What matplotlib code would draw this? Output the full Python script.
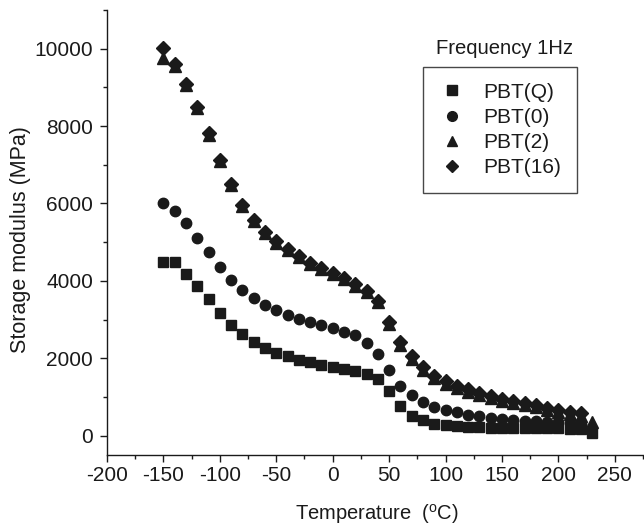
import matplotlib
matplotlib.use("Agg")
import matplotlib.pyplot as plt
from matplotlib.ticker import MultipleLocator
from matplotlib.lines import Line2D

plt.rcParams['font.family'] = ['Liberation Sans', 'DejaVu Sans']
plt.rcParams['mathtext.fontset'] = 'custom'
plt.rcParams['mathtext.rm'] = 'Liberation Sans'
plt.rcParams['mathtext.it'] = 'Liberation Sans:italic'
plt.rcParams['axes.unicode_minus'] = False

# Temperatures (°C)
temps_long = [-150, -140, -130, -120, -110, -100, -90, -80, -70, -60, -50, -40, -30,
              -20, -10, 0, 10, 20, 30, 40, 50, 60, 70, 80, 90, 100, 110, 120, 130,
              140, 150, 160, 170, 180, 190, 200, 210, 220, 230]
temps_short = temps_long[:-1]

# Storage modulus (MPa)
pbt_q = [4490, 4490, 4175, 3870, 3540, 3177, 2872, 2630, 2422, 2258, 2135, 2050, 1961,
         1900, 1830, 1765, 1719, 1659, 1592, 1465, 1150, 755, 515, 398, 312, 268, 242,
         227, 216, 205, 200, 195, 192, 190, 188, 186, 183, 175, 70]
pbt_0 = [6000, 5800, 5500, 5120, 4740, 4350, 4035, 3760, 3560, 3385, 3250, 3110, 3020,
         2935, 2865, 2780, 2690, 2605, 2395, 2110, 1690, 1285, 1040, 860, 747, 659, 600,
         545, 503, 465, 430, 400, 385, 370, 355, 340, 325, 300]
pbt_2 = [9760, 9560, 9070, 8470, 7780, 7100, 6480, 5940, 5550, 5230, 4990, 4800, 4610,
         4440, 4310, 4180, 4050, 3880, 3710, 3460, 2880, 2330, 1970, 1700, 1480, 1340,
         1220, 1140, 1050, 970, 900, 840, 780, 730, 650, 610, 560, 520, 340]
pbt_16 = [10030, 9600, 9100, 8500, 7810, 7130, 6510, 5970, 5580, 5260, 5020, 4830, 4645,
          4470, 4340, 4210, 4080, 3910, 3740, 3490, 2930, 2410, 2050, 1770, 1545, 1405,
          1285, 1200, 1110, 1025, 955, 895, 835, 780, 705, 660, 605, 575]

labels = ['PBT(Q)', 'PBT(0)', 'PBT(2)', 'PBT(16)']
legend_title = 'Frequency 1Hz'

C = '#1a1a1a'
W, H = 644, 531
fig = plt.figure(figsize=(W / 100, H / 100), dpi=100)
ax = fig.add_axes([107 / W, 1 - 455 / H, (643 - 107) / W, (455 - 10) / H])

ax.plot(temps_long, pbt_q, 's', color=C, ms=7, ls='none')
ax.plot(temps_short, pbt_0, 'o', color=C, ms=7.5, ls='none')
ax.plot(temps_long, pbt_2, '^', color=C, ms=8, ls='none')
ax.plot(temps_short, pbt_16, 'D', color=C, ms=7, ls='none')

ax.set_xlim(-200, 275)
ax.set_ylim(-500, 11000)
ax.xaxis.set_major_locator(MultipleLocator(50))
ax.xaxis.set_minor_locator(MultipleLocator(25))
ax.yaxis.set_major_locator(MultipleLocator(2000))
ax.yaxis.set_minor_locator(MultipleLocator(1000))
for s in ['top', 'right']:
    ax.spines[s].set_visible(False)
for s in ['left', 'bottom']:
    ax.spines[s].set_linewidth(1.0)
    ax.spines[s].set_color(C)
ax.tick_params(which='major', direction='out', length=5, width=1.0, colors=C,
               labelsize=15, labelcolor=C)
ax.tick_params(which='minor', direction='out', length=3, width=1.0, colors=C)
ax.tick_params(axis='x', pad=3)
ax.tick_params(axis='y', pad=5)

ax.set_xlabel(r'Temperature  ($^{\mathrm{o}}$C)', fontsize=14.5, color=C)
ax.set_ylabel('Storage modulus (MPa)', fontsize=15.5, color=C)
ax.xaxis.set_label_coords(0.503, -0.105)
ax.yaxis.set_label_coords(-0.142, 0.484)

handles = [Line2D([], [], marker=m, color=C, ls='none', ms=sz)
           for m, sz in zip(['s', 'o', '^', 'D'], [6.5, 7, 7.5, 6.5])]
leg = ax.legend(handles, labels, loc='upper left', bbox_to_anchor=(0.5896, 0.8719),
                fontsize=15, frameon=True, fancybox=False, borderpad=0.75,
                labelspacing=0.3, handletextpad=0.9, handlelength=1.25,
                borderaxespad=0)
leg.get_frame().set_edgecolor(C)
leg.get_frame().set_linewidth(1.0)
for t in leg.get_texts():
    t.set_color(C)

fig.text(504 / W, 1 - 48 / H, legend_title, fontsize=14.6, color=C,
         ha='center', va='center')

fig.savefig('out.png', dpi=100)
